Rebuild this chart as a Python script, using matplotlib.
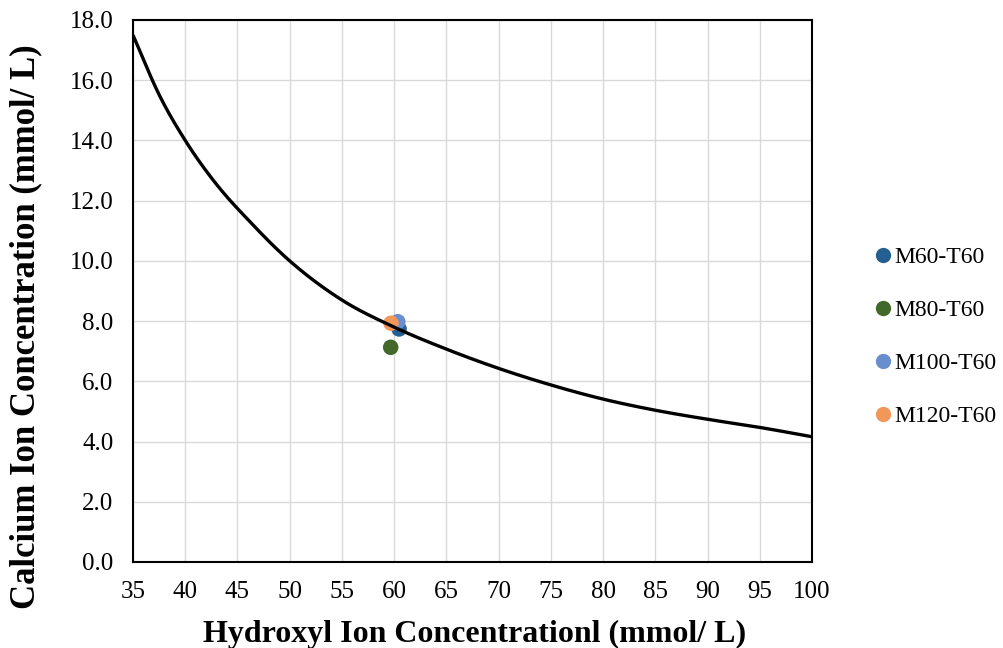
import matplotlib
matplotlib.use("Agg")
import matplotlib.pyplot as plt
from matplotlib.lines import Line2D
import numpy as np

# Curve
curve_x = [35, 37.5, 40, 42.5, 45, 50, 55, 60, 65, 70, 75, 80, 85, 90, 95, 100]
curve_y = [17.5, 15.52, 14.0, 12.76, 11.74, 10.0, 8.70, 7.80, 7.07, 6.43, 5.88, 5.41, 5.04, 4.74, 4.47, 4.16]

# Measured points
series_names = ["M60-T60", "M80-T60", "M100-T60", "M120-T60"]
series_x = [60.47, 59.67, 60.35, 59.7]
series_y = [7.74, 7.13, 7.98, 7.93]
series_colors = ["#255E91", "#43682B", "#698ED0", "#F1975A"]

x_ticks = list(range(35, 101, 5))
y_ticks = [0, 2, 4, 6, 8, 10, 12, 14, 16, 18]


def hermite_smooth(xs, ys, n=40):
    """Smooth drawing of the read points (cubic Hermite, tangents from neighbours)."""
    x = np.asarray(xs, float)
    y = np.asarray(ys, float)
    m = np.empty_like(y)
    m[1:-1] = (y[2:] - y[:-2]) / (x[2:] - x[:-2])
    m[0] = (y[1] - y[0]) / (x[1] - x[0])
    m[-1] = (y[-1] - y[-2]) / (x[-1] - x[-2])
    ox, oy = [], []
    t = np.linspace(0, 1, n, endpoint=False)
    for i in range(len(x) - 1):
        h = x[i + 1] - x[i]
        h00 = 2 * t**3 - 3 * t**2 + 1
        h10 = t**3 - 2 * t**2 + t
        h01 = -2 * t**3 + 3 * t**2
        h11 = t**3 - t**2
        ox.extend(x[i] + t * h)
        oy.extend(h00 * y[i] + h10 * h * m[i] + h01 * y[i + 1] + h11 * h * m[i + 1])
    ox.append(x[-1]); oy.append(y[-1])
    return np.array(ox), np.array(oy)


plt.rcParams['font.family'] = ['Liberation Serif', 'DejaVu Serif']

fig = plt.figure(figsize=(10.04, 6.48), dpi=100)
ax = fig.add_axes([133 / 1004, 1 - 562 / 648, (812 - 133) / 1004, (562 - 20) / 648])

for name, x, y, c in zip(series_names, series_x, series_y, series_colors):
    ax.scatter([x], [y], s=125, color=c, zorder=3, edgecolors='none', label=name)

sx, sy = hermite_smooth(curve_x, curve_y)
ax.plot(sx, sy, color="black", lw=2.4, zorder=4, solid_capstyle='butt')

ax.set_xlim(35, 100)
ax.set_ylim(0, 18)
ax.set_xticks(x_ticks)
ax.set_yticks(y_ticks)
ax.set_yticklabels([f"{v:.1f}" for v in y_ticks])
ax.tick_params(length=0, labelsize=18, colors='black')
ax.tick_params(axis='x', pad=14)
ax.tick_params(axis='y', pad=14)
ax.grid(True, color="#D9D9D9", lw=1.0)
ax.set_axisbelow(True)
for s in ax.spines.values():
    s.set_color("black")
    s.set_linewidth(1.5)

ax.set_xlabel("Hydroxyl Ion Concentrationl (mmol/ L)", fontsize=23, fontweight='bold')
ax.set_ylabel("Calcium Ion Concentration (mmol/ L)", fontsize=25, fontweight='bold')
ax.xaxis.set_label_coords((475 - 133) / 679, (562 - 620) / 542)
ax.yaxis.set_label_coords((42 - 133) / 679, (562 - 326.5) / 542)

handles = [Line2D([], [], marker='o', ls='none', color=c, markersize=11, markeredgewidth=0)
           for c in series_colors]
fig.legend(handles, series_names, loc='center left', bbox_to_anchor=(866 / 1004, 1 - 337 / 648),
           frameon=False, fontsize=17, handletextpad=0.19, handlelength=0.6,
           labelspacing=1.33, borderaxespad=0)

fig.savefig("out.png", dpi=100)
